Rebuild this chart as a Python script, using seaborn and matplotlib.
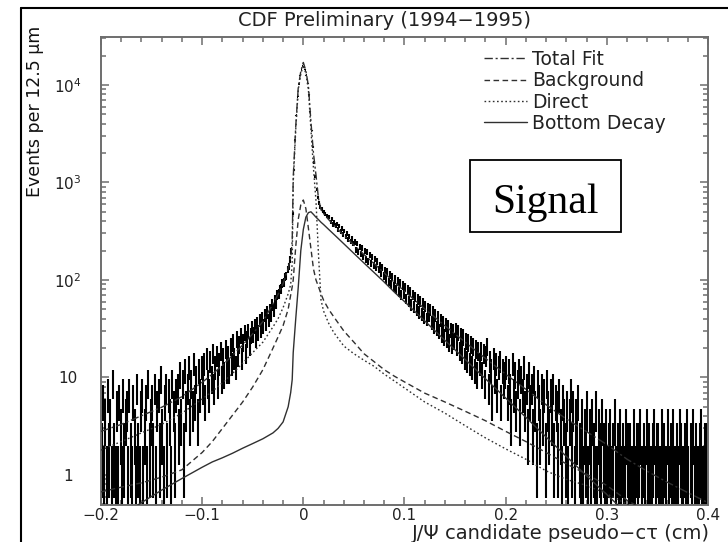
import numpy as np
import pandas as pd
import matplotlib
matplotlib.use("Agg")
import matplotlib.pyplot as plt
import seaborn as sns
from matplotlib.patches import Rectangle
from matplotlib.lines import Line2D
from matplotlib.ticker import MultipleLocator, LogLocator, FixedLocator, NullFormatter

# ---------------------------------------------------------------
# Measured pseudo-c*tau distribution: events per 12.5 um bin,
# 480 bins from -0.2 cm to 0.4 cm
# ---------------------------------------------------------------
bin_width = 0.00125
x_low, x_high = -0.2, 0.4
counts = [
    2, 6, 1, 4, 1, 7, 2, 4, 1, 9, 2, 1, 5, 1, 6, 3, 1, 7, 2, 4,
    5, 1, 7, 2, 1, 6, 3, 1, 8, 2, 1, 5, 7, 1, 3, 6, 1, 9, 2, 4,
    6, 2, 8, 1, 5, 7, 2, 10, 3, 1, 6, 8, 2, 7, 4, 1, 9, 5, 2, 7,
    8, 3, 11, 4, 9, 2, 12, 5, 8, 13, 4, 9, 5, 14, 6, 10, 4, 12, 7, 13,
    8, 14, 6, 16, 9, 7, 15, 10, 18, 8, 13, 17, 9, 14, 19, 10, 16, 11, 20, 12,
    17, 12, 21, 14, 23, 16, 13, 25, 17, 22, 27, 16, 23, 29, 18, 25, 30, 21, 27, 32,
    28, 34, 25, 36, 29, 39, 31, 41, 34, 44, 36, 47, 39, 50, 44, 56, 49, 62, 58, 70,
    72, 80, 81, 93, 94, 107, 110, 128, 138, 162, 200, 480, 1350, 2700, 4900, 7600, 10200, 12500, 14200, 15600,
    15300, 14300, 12600, 10400, 7900, 5300, 3400, 2300, 1600, 1150, 850, 700, 615, 560, 538, 505, 494, 470, 455, 446,
    445, 395, 425, 372, 390, 362, 375, 330, 358, 316, 335, 292, 318, 280, 298, 262, 282, 248, 266, 236,
    246, 205, 238, 194, 220, 186, 212, 172, 200, 163, 192, 155, 181, 148, 172, 140, 165, 134, 156, 128,
    140, 118, 135, 110, 126, 102, 121, 96, 113, 91, 108, 85, 102, 80, 97, 76, 92, 71, 88, 73,
    84, 64, 79, 60, 75, 56, 71, 53, 67, 50, 63, 47, 60, 45, 57, 42, 54, 40, 51, 44,
    50, 37, 47, 34, 44, 32, 42, 30, 39, 28, 37, 26, 35, 25, 33, 23, 31, 22, 30, 24,
    31, 21, 29, 19, 27, 18, 26, 16, 24, 15, 23, 14, 22, 13, 21, 12, 20, 11, 19, 14,
    19, 11, 18, 9, 17, 21, 8, 15, 12, 6, 16, 10, 14, 7, 13, 15, 6, 12, 9, 11,
    13, 6, 12, 8, 4, 14, 7, 11, 5, 9, 12, 4, 10, 7, 13, 5, 8, 3, 11, 6,
    8, 3, 10, 5, 2, 9, 6, 3, 8, 4, 7, 2, 9, 5, 3, 7, 4, 8, 2, 6,
    5, 2, 7, 3, 1, 6, 4, 2, 5, 1, 4, 7, 2, 5, 1, 4, 3, 6, 2, 1,
    4, 1, 3, 2, 5, 1, 3, 1, 4, 2, 1, 5, 1, 3, 2, 1, 4, 2, 1, 3,
    1, 2, 3, 1, 2, 0, 4, 1, 2, 1, 3, 1, 2, 1, 1, 3, 2, 1, 2, 1,
    1, 3, 1, 2, 1, 2, 3, 1, 0, 2, 1, 3, 1, 2, 1, 1, 2, 3, 1, 2,
    2, 1, 1, 3, 1, 2, 1, 0, 3, 1, 2, 1, 3, 1, 1, 2, 1, 3, 2, 1,
    1, 2, 1, 3, 1, 0, 2, 1, 3, 1, 2, 1, 1, 2, 3, 1, 1, 2, 1, 2,
]

# ---------------------------------------------------------------
# Fit components sampled along pseudo-c*tau (cm)
# ---------------------------------------------------------------
fit_x = [-0.20, -0.18, -0.16, -0.14, -0.12, -0.10, -0.09, -0.08, -0.07, -0.06,
         -0.05, -0.04, -0.03, -0.025, -0.02, -0.015, -0.0125, -0.011, -0.01, -0.0075,
         -0.005, -0.0025, 0.0, 0.0025, 0.005, 0.0075, 0.01, 0.0125, 0.015, 0.0175,
         0.02, 0.025, 0.03, 0.04, 0.05, 0.06, 0.07, 0.08, 0.09, 0.10,
         0.12, 0.14, 0.16, 0.18, 0.20, 0.22, 0.24, 0.26, 0.28, 0.30,
         0.32, 0.34, 0.36, 0.38, 0.40]
total_fit = [2.8, 3.3, 4.05, 4.95, 6.35, 8.9, 10.8, 13.3, 16.8, 21.5,
             28.1, 37.4, 57, 71, 92, 130, 170, 250, 1118, 3760,
             9505, 13790, 16990, 13980, 9830, 4210, 2000, 1190, 680, 524,
             480, 416, 366, 286, 228, 182, 147, 118, 94.5, 76.8,
             50.5, 33.9, 23, 15.7, 10.8, 7.55, 5.25, 3.75, 2.78, 2.05,
             1.45, 1.09, 0.84, 0.66, 0.52]
background = [0.67, 0.75, 0.83, 0.95, 1.13, 1.7, 2.2, 3.0, 4.1, 5.6,
              8.0, 12, 20, 26, 34, 50, 70, 85, 100, 220,
              420, 590, 660, 540, 340, 210, 130, 100, 85, 72,
              62, 50, 42, 30, 23, 17.5, 14.5, 12, 10.3, 9.0,
              6.9, 5.6, 4.5, 3.6, 2.8, 2.2, 1.7, 1.3, 1.02, 0.78,
              0.55, 0.42, 0.33, 0.26, 0.2]
direct = [1.8, 2.2, 2.7, 3.3, 4.3, 6.0, 7.2, 8.8, 11, 14,
          18, 23, 33, 40, 52, 72, 90, 150, 1000, 3500,
          9000, 13000, 16000, 13000, 9000, 3500, 1400, 650, 180, 62,
          48, 36, 29, 21, 17.5, 15, 13, 10.8, 9.2, 7.8,
          5.6, 4.3, 3.2, 2.4, 1.85, 1.45, 1.1, 0.9, 0.78, 0.64,
          0.5, 0.42, 0.35, 0.3, 0.25]
bottom_decay = [0.3, 0.38, 0.52, 0.7, 0.92, 1.2, 1.36, 1.5, 1.67, 1.88,
                2.1, 2.35, 2.7, 3.0, 3.5, 5.0, 7.0, 9.5, 18, 40,
                85, 200, 330, 440, 490, 500, 470, 440, 415, 390,
                370, 330, 295, 235, 187, 149, 119, 95, 75, 60,
                38, 24, 15.3, 9.7, 6.15, 3.9, 2.45, 1.55, 0.98, 0.63,
                0.4, 0.25, 0.16, 0.1, 0.065]

component_names = ["Total Fit", "Background", "Direct", "Bottom Decay"]
x_ticks = [-0.2, -0.1, 0.0, 0.1, 0.2, 0.3, 0.4]
x_tick_labels = ["\u22120.2", "\u22120.1", "0", "0.1", "0.2", "0.3", "0.4"]
y_ticks = [1, 10, 100, 1000, 10000]
y_tick_labels = ["1", "10", "$10^{2}$", "$10^{3}$", "$10^{4}$"]

# ---------------------------------------------------------------
sns.set_theme(style="ticks")
plt.rcParams["font.family"] = ["DejaVu Sans"]
plt.rcParams["mathtext.fontset"] = "dejavusans"

W, H = 728, 542
fig = plt.figure(figsize=(W / 100, H / 100), dpi=100)
fig.patch.set_facecolor("white")

def fx(px):
    return px / W

def fy(py):
    return 1 - py / H

ax = fig.add_axes([fx(101), fy(505), fx(708) - fx(101), fy(37) - fy(505)])
ax.set_facecolor("white")

# data with Poisson error bars
n = np.asarray(counts, dtype=float)
centers = x_low + (np.arange(n.size) + 0.5) * bin_width
keep = n > 0
nk = n[keep]
err = np.sqrt(nk)
lower = np.clip(nk - err, 0.05, None)
ax.errorbar(centers[keep], nk, yerr=[nk - lower, err], xerr=bin_width / 2,
            fmt="none", ecolor="black", elinewidth=1.5, capsize=0, zorder=2)

# fit components
fit_df = pd.DataFrame({
    "x": fit_x * 4,
    "value": total_fit + background + direct + bottom_decay,
    "component": sum([[c] * len(fit_x) for c in component_names], []),
})
dash_map = {
    "Total Fit": (6, 2, 1.5, 2),
    "Background": (4, 2.5),
    "Direct": (1.2, 1.8),
    "Bottom Decay": "",
}
fit_color = "#303030"
sns.lineplot(data=fit_df, x="x", y="value", style="component",
             dashes=dash_map, color=fit_color, linewidth=1.0,
             legend=False, ax=ax, zorder=3)

ax.set_yscale("log")
ax.set_xlim(x_low, x_high)
ax.set_ylim(0.492, 31000)
ax.set_xlabel("")
ax.set_ylabel("")

ax.xaxis.set_major_locator(FixedLocator(x_ticks))
ax.set_xticklabels(x_tick_labels)
ax.xaxis.set_minor_locator(MultipleLocator(0.02))
ax.yaxis.set_major_locator(FixedLocator(y_ticks))
ax.set_yticklabels(y_tick_labels)
ax.yaxis.set_minor_locator(LogLocator(base=10, subs=np.arange(2, 10)))
ax.yaxis.set_minor_formatter(NullFormatter())

spine_col = "#6e6e6e"
for s in ax.spines.values():
    s.set_visible(True)
    s.set_color(spine_col)
    s.set_linewidth(1.4)
ax.tick_params(which="both", direction="in", top=True, right=True,
               color=spine_col, width=1.1)
ax.tick_params(which="major", length=6)
ax.tick_params(which="minor", length=3.6)
ax.tick_params(axis="x", which="major", labelsize=11, pad=2.5, labelcolor="#222222")
ax.tick_params(axis="y", which="major", labelsize=11, pad=24, labelcolor="#222222")
for lab in ax.get_yticklabels():
    lab.set_horizontalalignment("center")

# legend
handles = []
for c in component_names:
    if dash_map[c]:
        handles.append(Line2D([], [], color=fit_color, lw=1.0, linestyle=(0, dash_map[c])))
    else:
        handles.append(Line2D([], [], color=fit_color, lw=1.0, linestyle="-"))
leg = ax.legend(handles, component_names, loc="upper left",
                bbox_to_anchor=(fx(484), fy(50)), bbox_transform=fig.transFigure,
                frameon=False, fontsize=13.5, handlelength=2.3, handletextpad=0.25,
                labelspacing=0.12, borderpad=0, borderaxespad=0)
for t in leg.get_texts():
    t.set_color("#222222")

# title and axis titles
fig.text(fx(384), fy(20), "CDF Preliminary (1994\u22121995)", ha="center", va="center",
         fontsize=14, color="#222222")
fig.text(fx(35), fy(111), "Events per 12.5 \u03bcm", rotation=90, ha="center",
         va="center", fontsize=12.5, color="#111111")
fig.text(fx(710), fy(524), "J/\u03a8 candidate pseudo\u2212c\u03c4 (cm)", ha="right",
         va="top", fontsize=14, color="#222222")

# Signal box
fig.add_artist(Rectangle((fx(470), fy(232)), fx(621) - fx(470), fy(160) - fy(232),
                         transform=fig.transFigure, facecolor="white",
                         edgecolor="black", linewidth=1.3, zorder=5))
fig.text(fx(545.5), fy(213), "Signal", ha="center", va="baseline",
         fontsize=30, family="Liberation Serif", color="black", zorder=6)

# outer frame lines
fig.add_artist(Line2D([fx(21), fx(21)], [0, fy(8)], transform=fig.transFigure,
                      color="black", lw=1.5))
fig.add_artist(Line2D([fx(21), 1], [fy(8), fy(8)], transform=fig.transFigure,
                      color="black", lw=1.5))

fig.savefig("out.png", dpi=100, facecolor="white")
